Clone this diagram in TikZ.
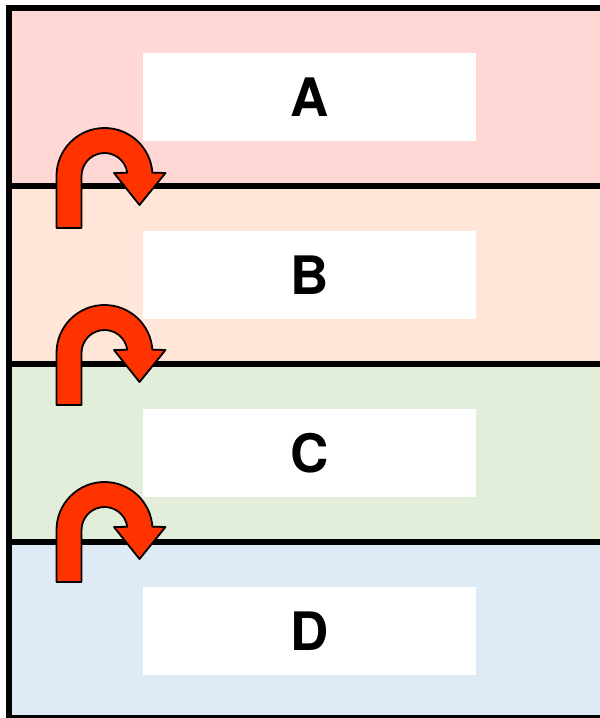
\documentclass[tikz,border=0pt]{standalone}
\usepackage{fontspec}
\setmainfont{TeX Gyre Heros}
\usetikzlibrary{positioning}
\definecolor{fillA}{HTML}{FFD8D6}
\definecolor{fillB}{HTML}{FFE6D9}
\definecolor{fillC}{HTML}{E2EED9}
\definecolor{fillD}{HTML}{DEEAF5}
\definecolor{turnred}{HTML}{FF3300}
\begin{document}
\begin{tikzpicture}[x=1pt,y=1pt,
    layer/.style={draw=none,inner sep=0pt,outer sep=0pt,minimum width=591pt,minimum height=178pt},
    label box/.style={fill=white,inner sep=0pt,minimum width=333pt,minimum height=88pt,font=\fontsize{53}{53}\selectfont\bfseries},
    sep line/.style={draw=black,line width=5.5pt},
    frame line/.style={draw=black,line width=6pt},
    turn arrow/.style={draw=black,line width=1.8pt,fill=turnred,line join=round},
    uturn/.pic={\path[turn arrow] (-48,-52) -- (-48,0) arc[start angle=180,end angle=4,radius=48]
        -- (61,3) -- (35,-29) -- (9.5,3) -- (22.8,3.2) arc[start angle=8,end angle=180,radius=23] -- (-23,-52) -- cycle;}]
    \useasboundingbox (0,0) rectangle (600,718);
    \clip (0,0) rectangle (600,718);
    % layers
    \node[layer,fill=fillA,anchor=north west] (layerA) at (9,710) {};
    \node[layer,fill=fillB,below=0pt of layerA] (layerB) {};
    \node[layer,fill=fillC,below=0pt of layerB] (layerC) {};
    \node[layer,fill=fillD,below=0pt of layerC] (layerD) {};
    % labels
    \node[label box,xshift=5pt] (boxA) at (layerA) {A};
    \node[label box,xshift=5pt] (boxB) at (layerB) {B};
    \node[label box,xshift=5pt] (boxC) at (layerC) {C};
    \node[label box,xshift=5pt] (boxD) at (layerD) {D};
    % borders
    \coordinate (frameSW) at (9,0);
    \draw[frame line] (frameSW) -- (layerA.north west) -- (layerA.north east);
    \draw[frame line] (frameSW) -- (frameSW -| layerD.east);
    \draw[sep line] (layerB.north west) -- (layerB.north east);
    \draw[sep line] (layerC.north west) -- (layerC.north east);
    \draw[sep line] (layerD.north west) -- (layerD.north east);
    % u-turns
    \coordinate (turnAB) at ([shift={(95.5,10)}]layerB.north west);
    \coordinate (turnBC) at ([shift={(95.5,11)}]layerC.north west);
    \coordinate (turnCD) at ([shift={(95.5,12)}]layerD.north west);
    \pic at (turnAB) {uturn};
    \pic at (turnBC) {uturn};
    \pic at (turnCD) {uturn};
\end{tikzpicture}
\end{document}
